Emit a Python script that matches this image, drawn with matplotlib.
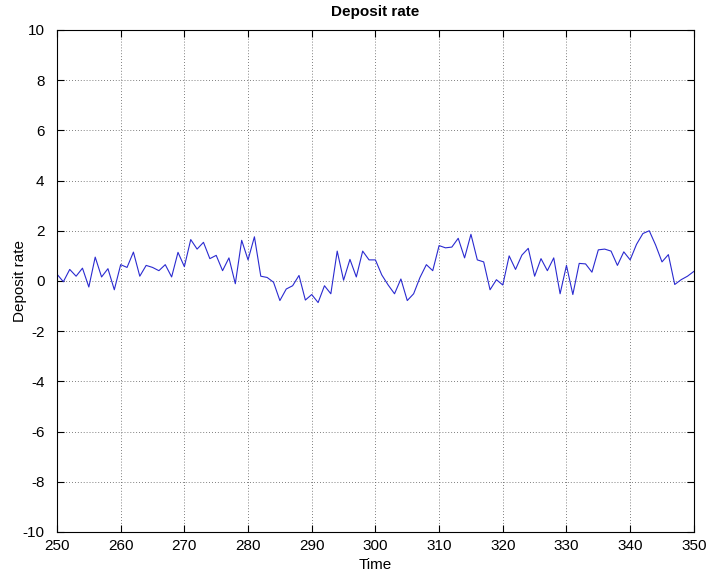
import numpy as np
import matplotlib.pyplot as plt

plt.rcParams["font.family"] = ["Liberation Sans", "DejaVu Sans"]
plt.rcParams["axes.unicode_minus"] = False

time = np.arange(250, 351)
rate = [
    0.27, -0.03, 0.46, 0.19, 0.51, -0.24, 0.95, 0.16, 0.49, -0.35,
    0.65, 0.54, 1.15, 0.19, 0.62, 0.54, 0.41, 0.65, 0.16, 1.14,
    0.57, 1.65, 1.27, 1.54, 0.89, 1.02, 0.41, 0.92, -0.11, 1.62,
    0.84, 1.76, 0.19, 0.14, -0.05, -0.78, -0.32, -0.19, 0.22, -0.76,
    -0.54, -0.86, -0.19, -0.51, 1.19, 0.03, 0.86, 0.16, 1.19, 0.84,
    0.84, 0.24, -0.16, -0.51, 0.08, -0.78, -0.51, 0.14, 0.65, 0.41,
    1.41, 1.32, 1.35, 1.70, 0.92, 1.86, 0.84, 0.76, -0.35, 0.05,
    -0.16, 1.00, 0.46, 1.03, 1.30, 0.19, 0.89, 0.41, 0.92, -0.51,
    0.62, -0.54, 0.70, 0.68, 0.35, 1.24, 1.27, 1.19, 0.62, 1.16,
    0.84, 1.46, 1.89, 2.00, 1.43, 0.76, 1.05, -0.14, 0.05, 0.19,
    0.38,
]

fig = plt.figure(figsize=(7.08, 5.76), dpi=100)
ax = fig.add_axes([0.0805, 0.0764, 0.8995, 0.8716])
ax.plot(time, rate, color="#2a2ad0", linewidth=0.8)

ax.set_xlim(250, 350)
ax.set_ylim(-10, 10)
ax.set_xticks(np.arange(250, 351, 10))
ax.set_yticks(np.arange(-10, 11, 2))
ax.grid(True, linestyle=(0, (1, 2.5)), color="#555555", linewidth=0.6)
ax.tick_params(direction="in", labelsize=11, length=5, top=True, right=True)
ax.tick_params(axis="x", pad=5)
ax.tick_params(axis="y", pad=9)
for s in ax.spines.values():
    s.set_linewidth(0.8)

ax.set_xlabel("Time", fontsize=11, labelpad=4)
ax.set_ylabel("Deposit rate", fontsize=11, labelpad=-3)
ax.set_title("Deposit rate", fontsize=11, fontweight="bold", pad=10)

fig.savefig("out.png", dpi=100)
